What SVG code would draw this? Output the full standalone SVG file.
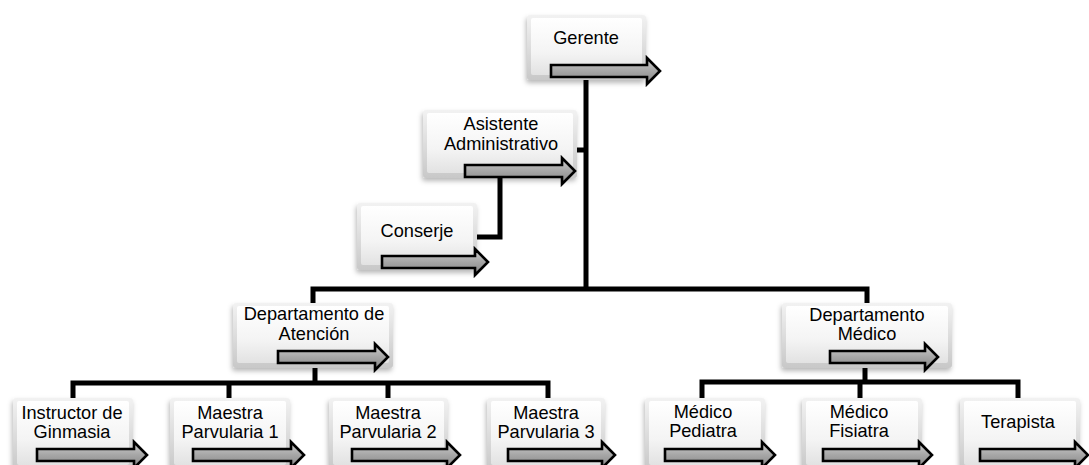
<svg xmlns="http://www.w3.org/2000/svg" width="1089" height="465" viewBox="0 0 1089 465">
<defs>
<linearGradient id="bo" x1="0" y1="0" x2="0" y2="1"><stop offset="0" stop-color="#f2f2f2"/><stop offset="1" stop-color="#c8c8c8"/></linearGradient>
<linearGradient id="bi" x1="0" y1="0" x2="0" y2="1"><stop offset="0" stop-color="#ffffff"/><stop offset="0.6" stop-color="#f4f4f4"/><stop offset="1" stop-color="#e2e2e2"/></linearGradient>
<linearGradient id="ag" x1="0" y1="0" x2="0" y2="1"><stop offset="0" stop-color="#d0d0d0"/><stop offset="0.5" stop-color="#a6a6a6"/><stop offset="1" stop-color="#858585"/></linearGradient>
<filter id="sh" x="-10%" y="-10%" width="120%" height="130%"><feDropShadow dx="-1" dy="3" stdDeviation="2.5" flood-color="#000" flood-opacity="0.28"/></filter>
</defs>
<style>
.bo{fill:url(#bo);filter:url(#sh)}
.bi{fill:url(#bi)}
.ar{fill:url(#ag);stroke:#000;stroke-width:2.6;stroke-linejoin:miter}
.t{font-family:"Liberation Sans",Arial,sans-serif;font-size:18.2px;fill:#000;text-anchor:middle}
.c{fill:none;stroke:#000;stroke-width:5;stroke-linejoin:miter;stroke-linecap:butt}
</style>
<rect width="1089" height="465" fill="#fff"/>
<g id="connectors">
<path class="c" d="M586,80 V289 M313,303 V289 H867 V303"/>
<path class="c" d="M577,150 H586"/>
<path class="c" d="M500,178 V237 H477"/>
<path class="c" d="M315,368 V383 M73,398 V383 H548 V398 M229,383 V398 M388,383 V398"/>
<path class="c" d="M865,368 V382 M702,398 V382 H1018 V398 M860,382 V398"/>
</g>
<g id="gerente">
<rect class="bo" x="527" y="15" width="119" height="65" rx="3"/><rect class="bi" x="531" y="18" width="111" height="57" rx="2"/>
<text class="t" x="586" y="44">Gerente</text>
<path class="ar" d="M551,65 H647 V58 L660,71 L647,84 V77 H551 Z"/>
</g>
<g id="asistente">
<rect class="bo" x="423" y="110" width="154" height="68" rx="3"/><rect class="bi" x="427" y="113" width="146" height="60" rx="2"/>
<text class="t" x="501" y="130">Asistente</text>
<text class="t" x="501" y="150">Administrativo</text>
<path class="ar" d="M465,165 H562 V158 L575,171 L562,184 V177 H465 Z"/>
</g>
<g id="conserje">
<rect class="bo" x="357" y="203" width="120" height="67" rx="3"/><rect class="bi" x="361" y="206" width="112" height="59" rx="2"/>
<text class="t" x="417" y="237">Conserje</text>
<path class="ar" d="M382,256 H475 V249 L488,262 L475,275 V268 H382 Z"/>
</g>
<g id="dep-atencion">
<rect class="bo" x="233" y="303" width="160" height="65" rx="3"/><rect class="bi" x="237" y="306" width="152" height="57" rx="2"/>
<text class="t" x="314" y="320">Departamento de</text>
<text class="t" x="314" y="340">Atención</text>
<path class="ar" d="M278,351 H375 V344 L388,357 L375,370 V363 H278 Z"/>
</g>
<g id="dep-medico">
<rect class="bo" x="782" y="303" width="170" height="65" rx="3"/><rect class="bi" x="786" y="306" width="162" height="57" rx="2"/>
<text class="t" x="867" y="321">Departamento</text>
<text class="t" x="867" y="340">Médico</text>
<path class="ar" d="M830,351 H925 V344 L938,357 L925,370 V363 H830 Z"/>
</g>
<g id="instructor">
<rect class="bo" x="13" y="398" width="120" height="72" rx="3"/><rect class="bi" x="17" y="401" width="112" height="64" rx="2"/>
<text class="t" x="72" y="419">Instructor de</text>
<text class="t" x="72" y="438">Ginmasia</text>
<path class="ar" d="M37,449 H134 V442 L147,455 L134,468 V461 H37 Z"/>
</g>
<g id="maestra1">
<rect class="bo" x="170" y="398" width="120" height="72" rx="3"/><rect class="bi" x="174" y="401" width="112" height="64" rx="2"/>
<text class="t" x="230" y="419">Maestra</text>
<text class="t" x="230" y="438">Parvularia 1</text>
<path class="ar" d="M193,449 H291 V442 L304,455 L291,468 V461 H193 Z"/>
</g>
<g id="maestra2">
<rect class="bo" x="329" y="398" width="119" height="72" rx="3"/><rect class="bi" x="333" y="401" width="111" height="64" rx="2"/>
<text class="t" x="388" y="419">Maestra</text>
<text class="t" x="388" y="438">Parvularia 2</text>
<path class="ar" d="M352,449 H447 V442 L460,455 L447,468 V461 H352 Z"/>
</g>
<g id="maestra3">
<rect class="bo" x="487" y="398" width="118" height="72" rx="3"/><rect class="bi" x="491" y="401" width="110" height="64" rx="2"/>
<text class="t" x="546" y="419">Maestra</text>
<text class="t" x="546" y="438">Parvularia 3</text>
<path class="ar" d="M508,449 H602 V442 L615,455 L602,468 V461 H508 Z"/>
</g>
<g id="pediatra">
<rect class="bo" x="645" y="398" width="120" height="72" rx="3"/><rect class="bi" x="649" y="401" width="112" height="64" rx="2"/>
<text class="t" x="703" y="418">Médico</text>
<text class="t" x="703" y="437">Pediatra</text>
<path class="ar" d="M665,449 H762 V442 L775,455 L762,468 V461 H665 Z"/>
</g>
<g id="fisiatra">
<rect class="bo" x="802" y="398" width="120" height="72" rx="3"/><rect class="bi" x="806" y="401" width="112" height="64" rx="2"/>
<text class="t" x="859" y="418">Médico</text>
<text class="t" x="859" y="437">Fisiatra</text>
<path class="ar" d="M823,449 H919 V442 L932,455 L919,468 V461 H823 Z"/>
</g>
<g id="terapista">
<rect class="bo" x="960" y="398" width="120" height="72" rx="3"/><rect class="bi" x="964" y="401" width="112" height="64" rx="2"/>
<text class="t" x="1018" y="428">Terapista</text>
<path class="ar" d="M980,449 H1075 V442 L1088,455 L1075,468 V461 H980 Z"/>
</g>
</svg>
